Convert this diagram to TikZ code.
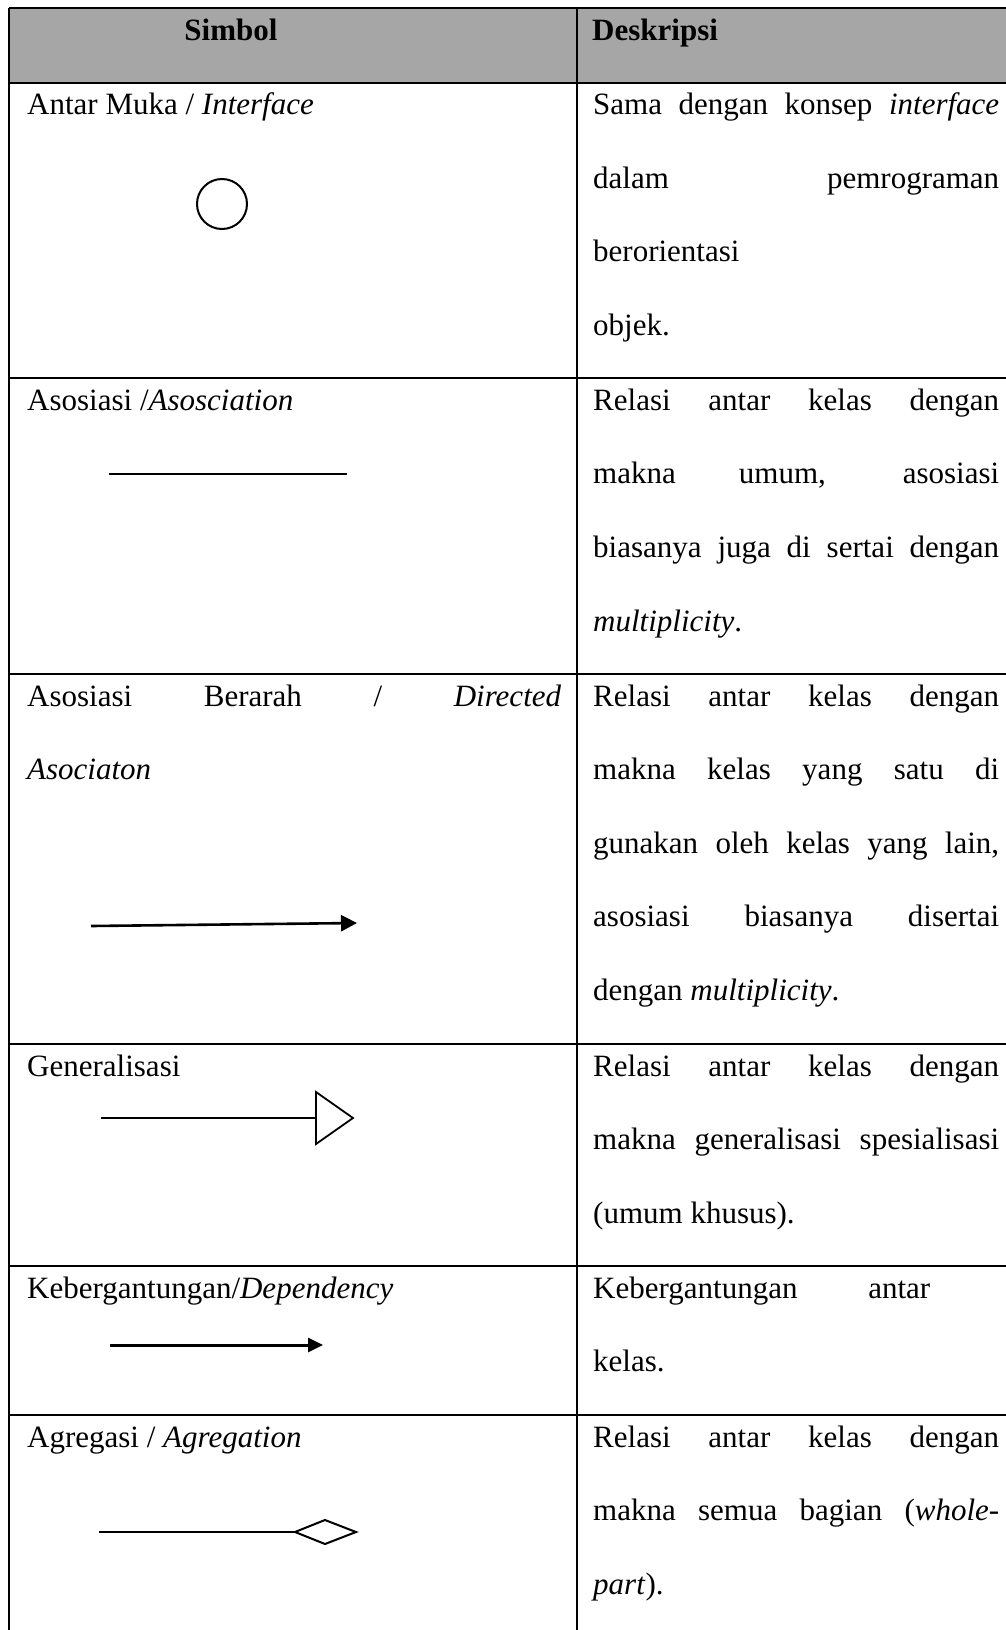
\documentclass[tikz,border=0pt]{standalone}
\usepackage{fontspec}
\setmainfont{Liberation Serif}
\usetikzlibrary{arrows.meta}
\definecolor{headgray}{HTML}{A6A6A6}
\newcommand{\rata}[2][406pt]{\makebox[#1][s]{#2}}
\tikzset{
  teks/.style={anchor=base west, inner sep=0pt, font=\fontsize{31}{37}\selectfont},
  garis/.style={line width=2pt},
}

\begin{document}
\begin{tikzpicture}[x=1pt,y=-1pt]
  \useasboundingbox (0,0) rectangle (1006,1630);

  % kepala tabel
  \fill[headgray] (9,8) rectangle (1006,83);
  \foreach \y in {8,83,378,674,1044,1266,1415}
    \draw[garis] (9,\y) -- (1006,\y);
  \draw[garis] (9,8) -- (9,1630);
  \draw[garis] (577,8) -- (577,1630);

  \node[teks, anchor=base] (simbol) at (231,40) {\textbf{Simbol}};
  \node[teks] (deskripsi) at (592,40) {\textbf{Deskripsi}};

  % antar muka
  \node[teks] (s1) at (27,114) {Antar Muka / \textit{Interface}};
  \node[teks] (d1a) at (593,114) {\rata{Sama dengan konsep \textit{interface}}};
  \node[teks] (d1b) at (593,188) {\rata{dalam pemrograman}};
  \node[teks] (d1c) at (593,261) {berorientasi};
  \node[teks] (d1d) at (593,335) {objek.};
  \coordinate (c1) at (222,204);
  \draw[garis] (c1) circle (25);

  % asosiasi
  \node[teks] (s2) at (27,410) {Asosiasi /\textit{Asosciation}};
  \node[teks] (d2a) at (593,410) {\rata{Relasi antar kelas dengan}};
  \node[teks] (d2b) at (593,483) {\rata{makna umum, asosiasi}};
  \node[teks] (d2c) at (593,557) {\rata{biasanya juga di sertai dengan}};
  \node[teks] (d2d) at (593,631) {\textit{multiplicity}.};
  \coordinate (a1) at (109,474);
  \coordinate (a2) at (347,474);
  \draw[line width=1.5pt] (a1) -- (a2);

  % asosiasi berarah
  \node[teks] (s3a) at (27,706) {\rata[534pt]{Asosiasi Berarah / \textit{Directed}}};
  \node[teks] (s3b) at (27,779) {\textit{Asociaton}};
  \node[teks] (d3a) at (593,706) {\rata{Relasi antar kelas dengan}};
  \node[teks] (d3b) at (593,779) {\rata{makna kelas yang satu di}};
  \node[teks] (d3c) at (593,853) {\rata{gunakan oleh kelas yang lain,}};
  \node[teks] (d3d) at (593,926) {\rata{asosiasi biasanya disertai}};
  \node[teks] (d3e) at (593,1000) {dengan \textit{multiplicity}.};
  \coordinate (b1) at (91,926);
  \coordinate (b2) at (357,923);
  \draw[line width=2.6pt, -{Triangle[length=16pt,width=16pt]}] (b1) -- (b2);

  % generalisasi
  \node[teks] (s4) at (27,1076) {Generalisasi};
  \node[teks] (d4a) at (593,1076) {\rata{Relasi antar kelas dengan}};
  \node[teks] (d4b) at (593,1149) {\rata{makna generalisasi spesialisasi}};
  \node[teks] (d4c) at (593,1223) {(umum khusus).};
  \coordinate (g1) at (101,1118);
  \coordinate (g2) at (316,1118);
  \draw[line width=1.2pt] (g1) -- (g2);
  \draw[line width=1.8pt, line join=miter] (316,1092) -- (353,1118) -- (316,1144) -- cycle;

  % kebergantungan
  \node[teks] (s5) at (27,1298) {Kebergantungan/\textit{Dependency}};
  \node[teks] (d5a) at (593,1298) {\rata[337pt]{Kebergantungan antar}};
  \node[teks] (d5b) at (593,1371) {kelas.};
  \coordinate (k1) at (110,1345);
  \coordinate (k2) at (323,1345);
  \draw[line width=3pt, -{Triangle[length=15pt,width=14pt]}] (k1) -- (k2);

  % agregasi
  \node[teks] (s6) at (27,1447) {Agregasi / \textit{Agregation}};
  \node[teks] (d6a) at (593,1447) {\rata{Relasi antar kelas dengan}};
  \node[teks] (d6b) at (593,1520) {\rata{makna semua bagian (\textit{whole-}}};
  \node[teks] (d6c) at (593,1594) {\textit{part}).};
  \coordinate (r1) at (99,1532);
  \coordinate (r2) at (295,1532);
  \draw[line width=1.2pt] (r1) -- (r2);
  \draw[garis] (r2) -- (325,1520) -- (356,1532) -- (325,1544) -- cycle;
\end{tikzpicture}
\end{document}
